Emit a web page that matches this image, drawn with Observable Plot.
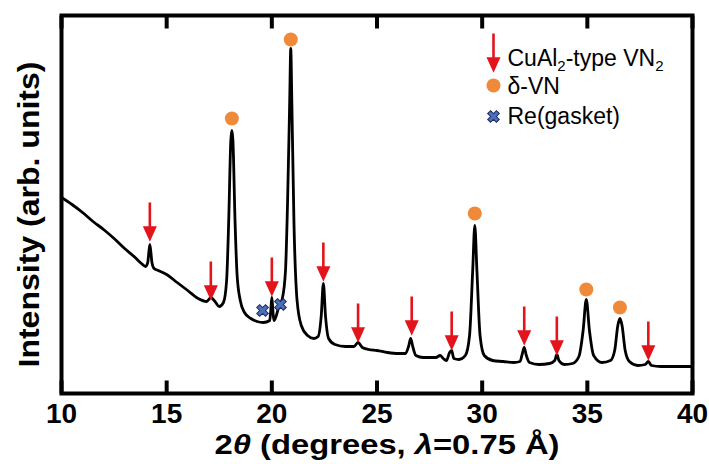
<!DOCTYPE html>
<html>
<head>
<meta charset="utf-8">
<script src="https://cdn.jsdelivr.net/npm/d3@7"></script>
<script src="https://cdn.jsdelivr.net/npm/@observablehq/plot@0.6"></script>
<style>
  body { margin: 0; background: #fff; }
  #chart svg { display: block; }
  g[aria-label="x-axis tick label"] text { font-weight: bold; font-size: 28px; }
</style>
</head>
<body>
<div id="chart"></div>
<script>
const twoTheta = [10.0,10.5,11.0,11.5,12.0,12.5,13.0,13.5,13.8,14.0,14.1,14.2,14.3,14.4,14.6,15.0,15.5,16.0,16.5,16.9,17.1,17.3,17.5,17.7,17.85,17.95,18.05,18.1,18.15,18.25,18.35,18.5,18.7,19.0,19.3,19.6,19.9,19.95,20.0,20.05,20.1,20.2,20.35,20.5,20.65,20.75,20.85,20.9,20.95,21.05,21.2,21.4,21.7,22.0,22.2,22.35,22.45,22.55,22.7,23.0,23.5,23.9,24.1,24.3,24.6,25.0,25.5,26.0,26.35,26.5,26.6,26.7,26.85,27.2,27.8,28.0,28.15,28.3,28.45,28.55,28.65,28.9,29.2,29.4,29.55,29.65,29.75,29.9,30.1,30.5,31.0,31.5,31.8,31.9,32.0,32.1,32.25,32.7,33.2,33.45,33.55,33.65,33.9,34.3,34.6,34.8,34.95,35.1,35.3,35.7,36.1,36.3,36.45,36.55,36.65,36.8,37.0,37.4,37.75,37.9,38.05,38.5,40.0];
const intensity = [196,189,181,172,164,155,145,136,130,127,131,149,131,125,123,119,111,103,95,92,96,92,87,91,113,173,253,263,253,173,118,93,81,75,72,71,73,83,96,83,73,77,88,95,123,193,293,345,293,173,93,68,58,55,57,78,110,78,55,49,47,47,51,46,44,43,41,40,40,47,55,47,38,36,36,38,35,33,41,43,35,34,38,58,123,168,123,58,38,33,32,31,32,39,46,38,31,29,30,33,39,33,29,30,37,63,94,63,38,31,33,43,68,75,68,43,32,28,29,32,28,27,27];

// CuAl2-type VN2 reflections (arrow tips)
const vn2X = [14.2,17.1,20.0,22.45,24.1,26.65,28.55,32.0,33.55,37.9];
const vn2Tip = [155,96,100,115,54,61,46,51,41,36];

// δ-VN reflections (circle markers)
const dvnX = [18.1,20.9,29.65,34.95,36.55];
const dvnY = [275,354,180,104,86];

// Re gasket reflections (cross markers)
const reX = [19.56,20.41];
const reY = [83,89];

const xTicks = [10,15,20,25,30,35,40];

const RED = "#e3141b", ORANGE = "#ee8a3a", BLUE = "#4a6fbf", NAVY = "#1e2a58";
const FONT = "'Liberation Sans', Arial, Helvetica, sans-serif";

const pattern = twoTheta.map((x, i) => ({x, y: intensity[i]}));
const vn2 = vn2X.map((x, i) => ({x, y: vn2Tip[i]}));
const dvn = dvnX.map((x, i) => ({x, y: dvnY[i]}));
const re = reX.map((x, i) => ({x, y: reY[i]}));

const lineShape = {draw(ctx, l) { ctx.moveTo(0, 0); ctx.lineTo(0, -l); }};
const arrowShape = {draw(ctx, l) {
  ctx.moveTo(0, 0); ctx.lineTo(-5, -11); ctx.lineTo(5, -11); ctx.closePath();
  ctx.moveTo(0, -10); ctx.lineTo(0, -l);
}};

const LEG1 = "CuAl2-type VN2";
const XTITLE = "2θ (degrees, λ=0.75 Å)";
const YTITLE = "Intensity (arb. units)";

const chart = Plot.plot({
  width: 709, height: 464,
  marginLeft: 61, marginRight: 17, marginTop: 15, marginBottom: 71,
  style: {fontFamily: FONT, background: "#fff", color: "#000"},
  x: {domain: [10, 40]},
  y: {domain: [0, 378], axis: null},
  marks: [
    Plot.line(pattern, {x: "x", y: "y", stroke: "#000", strokeWidth: 2.8, curve: "monotone-x", strokeLinejoin: "round"}),
    Plot.vector(vn2, {x: "x", y: "y", anchor: "start", rotate: 0, length: 36, shape: arrowShape,
      stroke: RED, fill: RED, strokeWidth: 2.6, strokeLinejoin: "miter", strokeLinecap: "butt"}),
    Plot.dot(dvn, {x: "x", y: "y", r: 7, fill: ORANGE, stroke: "none"}),
    Plot.dot(re, {x: "x", y: "y", r: 5.2, symbol: "cross", rotate: 45, fill: BLUE, stroke: NAVY, strokeWidth: 1}),
    Plot.axisX(xTicks, {tickSize: 0, tickPadding: 10, fontSize: 28, fill: "#000", label: null}),
    Plot.text([XTITLE], {frameAnchor: "bottom", dx: 10, dy: 52, lineAnchor: "middle", textAnchor: "middle", fontSize: 28, fontWeight: "bold", fill: "#000"}),
    Plot.text([YTITLE], {frameAnchor: "left", dx: -32, dy: 10, rotate: -90, textAnchor: "middle", lineAnchor: "middle", fontSize: 29, fontWeight: "bold", fill: "#000"}),
    // legend
    Plot.vector([0], {frameAnchor: "top-left", dx: 432, dy: 54, anchor: "start", rotate: 0, length: 36, shape: arrowShape,
      stroke: RED, fill: RED, strokeWidth: 2.6, strokeLinejoin: "miter", strokeLinecap: "butt"}),
    Plot.dot([0], {frameAnchor: "top-left", dx: 432, dy: 70, r: 7, fill: ORANGE}),
    Plot.dot([0], {frameAnchor: "top-left", dx: 432, dy: 101, r: 5.2, symbol: "cross", rotate: 45, fill: BLUE, stroke: NAVY, strokeWidth: 1}),
    Plot.text([LEG1], {frameAnchor: "top-left", dx: 446, dy: 43, textAnchor: "start", lineAnchor: "middle", fontSize: 23, fill: "#000"}),
    Plot.text(["δ-VN"], {frameAnchor: "top-left", dx: 446, dy: 71, textAnchor: "start", lineAnchor: "middle", fontSize: 23, fill: "#000"}),
    Plot.text(["Re(gasket)"], {frameAnchor: "top-left", dx: 446, dy: 101, textAnchor: "start", lineAnchor: "middle", fontSize: 23, fill: "#000"}),
    Plot.vector(xTicks, {x: d => d, frameAnchor: "bottom", anchor: "start", rotate: 0, length: 13, shape: lineShape, stroke: "#000", strokeWidth: 4, strokeLinecap: "butt"}),
    Plot.vector(xTicks, {x: d => d, frameAnchor: "top", anchor: "start", rotate: 180, length: 13, shape: lineShape, stroke: "#000", strokeWidth: 4, strokeLinecap: "butt"}),
    Plot.frame({stroke: "#000", strokeWidth: 4})
  ]
});
document.getElementById("chart").appendChild(chart);

const svg = d3.select(chart);
const byText = s => svg.selectAll("text").filter(function () { return this.textContent === s; });

// subscripts in legend label
const lt = byText(LEG1);
lt.text(null);
[["CuAl", 0], ["2", 1], ["-type VN", -1], ["2", 1]].forEach(([s, sub]) => {
  const t = lt.append("tspan").text(s);
  if (sub === 1) t.attr("font-size", 15).attr("dy", 5);
  if (sub === -1) t.attr("dy", -5);
});

// italic greek letters in x title
const xt = byText(XTITLE);
xt.text(null);
[["2", false], ["θ", true], [" (degrees, ", false], ["λ", true], ["=0.75 Å)", false]].forEach(([s, it]) => {
  const t = xt.append("tspan").text(s);
  if (it) t.attr("font-style", "italic");
});
xt.attr("textLength", 345).attr("lengthAdjust", "spacingAndGlyphs");
byText(YTITLE).attr("textLength", 306).attr("lengthAdjust", "spacingAndGlyphs");
</script>
</body>
</html>
